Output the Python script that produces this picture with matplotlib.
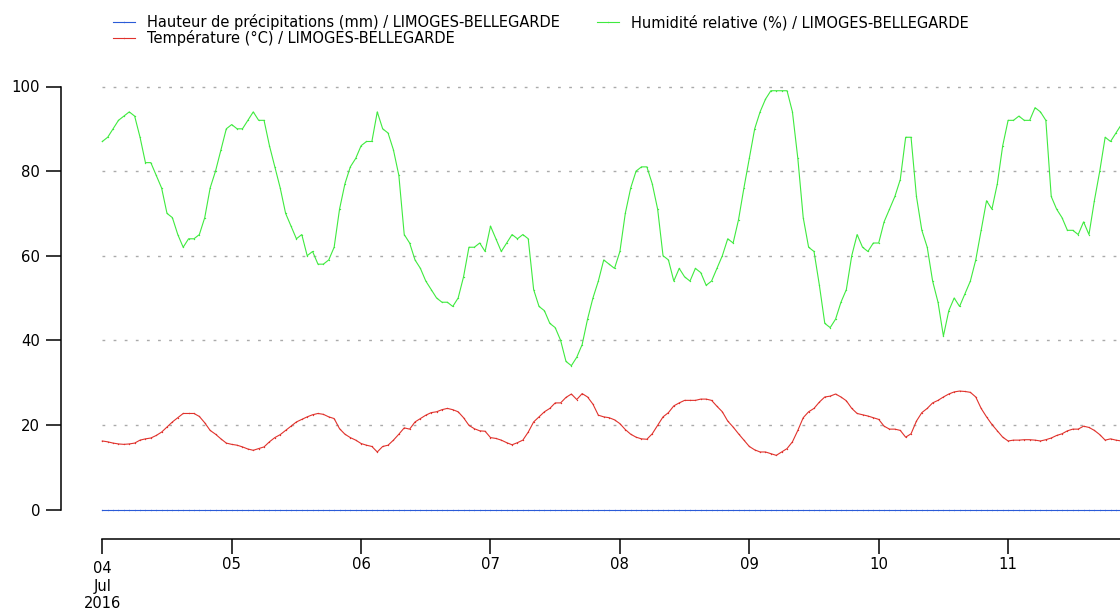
import numpy as np
import pandas as pd
import matplotlib
matplotlib.use("Agg")
import matplotlib.pyplot as plt
import matplotlib.dates as mdates
from matplotlib.ticker import FuncFormatter, FixedLocator

# hourly observations, starting 2016-07-04 00:00
start = "2016-07-04 00:00"

humidity = [
    87, 88, 90, 92, 93, 94, 93, 88, 82, 82, 79, 76, 70, 69, 65, 62, 64, 64, 65, 69, 76, 80, 85, 90,
    91, 90, 90, 92, 94, 92, 92, 86, 81, 76, 70, 67, 64, 65, 60, 61, 58, 58, 59, 62, 71, 77, 81, 83,
    86, 87, 87, 94, 90, 89, 85, 79, 65, 63, 59, 57, 54, 52, 50, 49, 49, 48, 50, 55, 62, 62, 63, 61,
    67, 64, 61, 63, 65, 64, 65, 64, 52, 48, 47, 44, 43, 40, 35, 34, 36, 39, 45, 50, 54, 59, 58, 57,
    61, 70, 76, 80, 81, 81, 77, 71, 60, 59, 54, 57, 55, 54, 57, 56, 53, 54, 57, 60, 64, 63, 68.5, 76,
    83, 90, 94, 97, 99, 99, 99, 99, 94, 83, 69, 62, 61, 53, 44, 43, 45, 49, 52, 60, 65, 62, 61, 63,
    63, 68, 71, 74, 78, 88, 88, 74, 66, 62, 54, 49, 41, 47, 50, 48, 51, 54, 59, 66, 73, 71, 77, 86,
    92, 92, 93, 92, 92, 95, 94, 92, 74, 71, 69, 66, 66, 65, 68, 65, 73, 80, 88, 87, 89, 91,
]

temperature = [
    16.2, 16.0, 15.7, 15.5, 15.4, 15.5, 15.7, 16.4, 16.7, 16.9, 17.5, 18.3, 19.5, 20.7, 21.7, 22.7,
    22.7, 22.7, 22.0, 20.5, 18.7, 17.8, 16.7, 15.7, 15.4, 15.2, 14.8, 14.3, 14.0, 14.4, 14.8, 16.0,
    17.0, 17.7, 18.7, 19.7, 20.7, 21.3, 21.9, 22.4, 22.7, 22.5, 21.9, 21.5, 19.1, 17.8, 17.0, 16.4,
    15.6, 15.2, 14.9, 13.6, 14.9, 15.2, 16.4, 17.8, 19.3, 19.0, 20.7, 21.5, 22.3, 22.9, 23.1, 23.6,
    23.9, 23.6, 23.1, 21.7, 19.9, 19.1, 18.6, 18.5, 17.0, 16.8, 16.4, 15.8, 15.3, 15.8, 16.4, 18.3,
    20.7, 21.9, 23.1, 23.9, 25.2, 25.2, 26.5, 27.3, 26.0, 27.4, 26.6, 24.9, 22.3, 21.9, 21.7, 21.2,
    20.3, 18.9, 17.8, 17.1, 16.7, 16.6, 17.9, 19.9, 21.9, 22.9, 24.5, 25.2, 25.8, 25.8, 25.8, 26.1,
    26.1, 25.8, 24.4, 23.1, 20.9, 19.5, 17.9, 16.4, 14.9, 14.1, 13.6, 13.6, 13.2, 12.8, 13.6, 14.4,
    16.0, 18.7, 21.7, 23.1, 23.9, 25.4, 26.6, 26.8, 27.3, 26.6, 25.7, 23.9, 22.7, 22.4, 22.1, 21.7,
    21.3, 19.7, 19.0, 19.0, 18.7, 17.1, 17.9, 20.9, 22.9, 23.9, 25.2, 25.8, 26.6, 27.3, 27.8, 28.0,
    27.9, 27.7, 26.6, 23.9, 21.9, 20.1, 18.6, 17.1, 16.2, 16.4, 16.4, 16.5, 16.5, 16.4, 16.2, 16.5,
    16.9, 17.5, 17.9, 18.6, 19.0, 19.0, 19.7, 19.4, 18.7, 17.7, 16.4, 16.7, 16.4, 16.2,
]

precipitation = [0.0] * len(temperature)

labels = [
    "Hauteur de précipitations (mm) / LIMOGES-BELLEGARDE",
    "Température (°C) / LIMOGES-BELLEGARDE",
    "Humidité relative (%) / LIMOGES-BELLEGARDE",
]
colors = ["#2a5bd7", "#e0322c", "#3fea3f"]

times = pd.date_range(start, periods=len(temperature), freq="h")

W, H = 1120, 610
fig = plt.figure(figsize=(W / 100, H / 100), dpi=100)

# pixel geometry
x0_px = 102.3
y0_px = 509.5          # y=0
ppu = 4.23             # px per unit
ylo, yhi = -3, 103
bot_px = y0_px - ylo * ppu
top_px = y0_px - yhi * ppu
ax = fig.add_axes([x0_px / W, (H - bot_px) / H, (W - x0_px) / W, (bot_px - top_px) / H])

series = [precipitation, temperature, humidity]
for vals, lab, col in zip(series, labels, colors):
    ax.plot(times, vals, color=col, lw=0.8, marker="o", markersize=1.0,
            markeredgewidth=0, label=lab, clip_on=False)

ax.set_ylim(ylo, yhi)
hour_px = 129.4 / 24
xmax_h = (W - x0_px) / hour_px
ax.set_xlim(times[0], times[0] + pd.Timedelta(hours=xmax_h))

ax.set_yticks([0, 20, 40, 60, 80, 100])
for y in [20, 40, 60, 80, 100]:
    ax.axhline(y, color="#aaaaaa", lw=1.0, ls=(0, (2, 6)), zorder=0)

FS = 10.7
# major tick: start of the period (day, month, year); minor ticks: other days
ax.xaxis.set_major_locator(FixedLocator([mdates.date2num(times[0])]))
ax.xaxis.set_major_formatter(FuncFormatter(lambda x, p: mdates.num2date(x).strftime("%d\n%b\n%Y")))
ax.xaxis.set_minor_locator(mdates.DayLocator())
ax.xaxis.set_minor_formatter(FuncFormatter(lambda x, p: mdates.num2date(x).strftime("%d")))

for s in ["top", "right"]:
    ax.spines[s].set_visible(False)
ax.spines["left"].set_position(("outward", (x0_px - 61) * 0.72))
ax.spines["left"].set_bounds(0, 100)
ax.spines["bottom"].set_position(("outward", (539 - bot_px) * 0.72))
for s in ["left", "bottom"]:
    ax.spines[s].set_linewidth(1.1)

ax.tick_params(axis="both", which="both", length=11, width=1.1, labelsize=FS, color="black")
ax.tick_params(axis="x", which="minor", pad=2)
ax.tick_params(axis="x", which="major", pad=5, labelsize=10.5)
ax.tick_params(axis="y", pad=4)

fig.legend(loc="upper left", bbox_to_anchor=(113 / W, 1 - 14 / H), ncol=2, frameon=False,
           fontsize=10.55, handlelength=1.5, handletextpad=0.85, columnspacing=2.5,
           labelspacing=0.0, borderpad=0, borderaxespad=0)

fig.savefig("out.png", dpi=100)
